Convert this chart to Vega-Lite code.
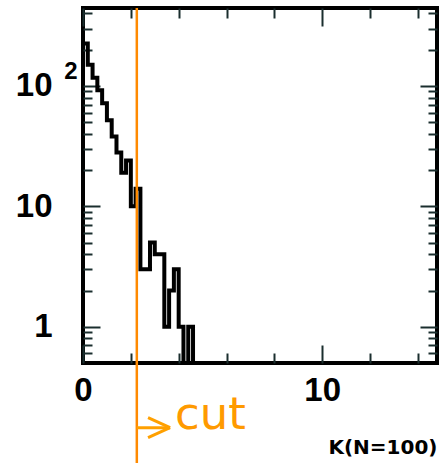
{
  "$schema": "https://vega.github.io/schema/vega-lite/v6.json",
  "width": 354,
  "height": 355,
  "autosize": {"type": "none"},
  "padding": {"left": 83, "top": 8, "right": 3, "bottom": 100},
  "background": "white",
  "config": {
    "view": {"stroke": "black", "strokeWidth": 4},
    "axis": {"grid": false, "domain": false, "tickColor": "#1a2e2e", "tickWidth": 2, "labelFont": "Liberation Sans", "labelFontWeight": "bold", "labelFontSize": 33, "labelColor": "black", "labelOverlap": false, "labelFlush": false}
  },
  "datasets": {
    "hist": [
      {"k": 0.0, "n": 225}, {"k": 0.2, "n": 150}, {"k": 0.4, "n": 117}, {"k": 0.6, "n": 92},
      {"k": 0.8, "n": 72}, {"k": 1.0, "n": 52}, {"k": 1.2, "n": 38}, {"k": 1.4, "n": 28},
      {"k": 1.6, "n": 19}, {"k": 1.8, "n": 24}, {"k": 2.0, "n": 10}, {"k": 2.2, "n": 14},
      {"k": 2.4, "n": 3}, {"k": 2.6, "n": 3}, {"k": 2.8, "n": 5}, {"k": 3.0, "n": 4},
      {"k": 3.2, "n": 4}, {"k": 3.4, "n": 1}, {"k": 3.6, "n": 2}, {"k": 3.8, "n": 3},
      {"k": 4.0, "n": 1}, {"k": 4.2, "n": 0}, {"k": 4.4, "n": 1}, {"k": 4.6, "n": 0}
    ],
    "cut": [{"k": 2.25, "top": 444, "bottom": 0.074, "ax0": 2.25, "ax1": 3.64, "ah": 2.72, "ay": 0.145, "ayu": 0.176, "ayl": 0.12, "tx": 3.85, "ty": 0.1425, "label": "cut"}]
  },
  "resolve": {"scale": {"y": "independent"}, "axis": {"x": "independent", "y": "independent"}},
  "layer": [
    {
      "data": {"name": "hist"},
      "mark": {"type": "line", "interpolate": "step-after", "color": "black", "strokeWidth": 4, "strokeJoin": "miter"},
      "encoding": {
        "x": {"field": "k", "type": "quantitative", "scale": {"domain": [0, 14.8], "nice": false, "zero": false},
          "axis": {"orient": "bottom", "values": [0, 10], "tickSize": -18, "labelBaseline": "middle", "labelPadding": 45,
            "title": "K(N=100)", "titleFont": "DejaVu Sans", "titleFontSize": 20, "titleFontWeight": "bold", "titleColor": "black",
            "titleAnchor": "end", "titleAlign": "right", "titleBaseline": "middle", "titleX": 354, "titleY": 84}},
        "y": {"field": "n", "type": "quantitative", "scale": {"type": "log", "domain": [0.5, 444], "nice": false, "clamp": true},
          "axis": {"orient": "left", "values": [1, 10, 100], "labelExpr": "datum.value == 1 ? '1' : '10'",
            "tickSize": -17, "labelBaseline": "middle", "labelPadding": 48, "title": null}}
      }
    },
    {
      "data": {"name": "hist"},
      "mark": {"type": "line", "strokeOpacity": 0},
      "encoding": {
        "x": {"field": "k", "type": "quantitative",
          "axis": {"orient": "bottom", "values": [2, 4, 6, 8, 12, 14], "labels": false, "tickSize": -10, "title": null}},
        "y": {"field": "n", "type": "quantitative", "scale": {"type": "log", "domain": [0.5, 444], "nice": false, "clamp": true},
          "axis": {"orient": "left", "values": [0.6, 0.7, 0.8, 0.9, 2, 3, 4, 5, 6, 7, 8, 9, 20, 30, 40, 50, 60, 70, 80, 90, 200, 300, 400],
            "labels": false, "tickSize": -9, "title": null}}
      }
    },
    {
      "data": {"name": "hist"},
      "mark": {"type": "line", "strokeOpacity": 0},
      "encoding": {
        "x": {"field": "k", "type": "quantitative",
          "axis": {"orient": "top", "values": [0, 10], "labels": false, "tickSize": -18, "title": null}},
        "y": {"field": "n", "type": "quantitative", "scale": {"type": "log", "domain": [0.5, 444], "nice": false, "clamp": true},
          "axis": {"orient": "right", "values": [1, 10, 100], "labels": false, "tickSize": -17, "title": null}}
      }
    },
    {
      "data": {"name": "hist"},
      "mark": {"type": "line", "strokeOpacity": 0},
      "encoding": {
        "x": {"field": "k", "type": "quantitative",
          "axis": {"orient": "top", "values": [2, 4, 6, 8, 12, 14], "labels": false, "tickSize": -10, "title": null}},
        "y": {"field": "n", "type": "quantitative", "scale": {"type": "log", "domain": [0.5, 444], "nice": false, "clamp": true},
          "axis": {"orient": "right", "values": [0.6, 0.7, 0.8, 0.9, 2, 3, 4, 5, 6, 7, 8, 9, 20, 30, 40, 50, 60, 70, 80, 90, 200, 300, 400],
            "labels": false, "tickSize": -9, "title": null}}
      }
    },
    {
      "data": {"name": "cut"},
      "mark": {"type": "rule", "color": "#ff8a00", "strokeWidth": 2.5},
      "encoding": {
        "x": {"field": "k", "type": "quantitative", "axis": null},
        "y": {"field": "top", "type": "quantitative", "scale": {"type": "log", "domain": [0.5, 444], "nice": false}, "axis": null},
        "y2": {"field": "bottom"}
      }
    },
    {
      "data": {"name": "cut"},
      "mark": {"type": "rule", "color": "#ffa000", "strokeWidth": 3},
      "encoding": {
        "x": {"field": "ax0", "type": "quantitative", "axis": null},
        "x2": {"field": "ax1"},
        "y": {"field": "ay", "type": "quantitative", "scale": {"type": "log", "domain": [0.5, 444], "nice": false}, "axis": null}
      }
    },
    {
      "data": {"name": "cut"},
      "mark": {"type": "rule", "color": "#ffa000", "strokeWidth": 3},
      "encoding": {
        "x": {"field": "ah", "type": "quantitative", "axis": null},
        "x2": {"field": "ax1"},
        "y": {"field": "ayu", "type": "quantitative", "scale": {"type": "log", "domain": [0.5, 444], "nice": false}, "axis": null},
        "y2": {"field": "ay"}
      }
    },
    {
      "data": {"name": "cut"},
      "mark": {"type": "rule", "color": "#ffa000", "strokeWidth": 3},
      "encoding": {
        "x": {"field": "ah", "type": "quantitative", "axis": null},
        "x2": {"field": "ax1"},
        "y": {"field": "ayl", "type": "quantitative", "scale": {"type": "log", "domain": [0.5, 444], "nice": false}, "axis": null},
        "y2": {"field": "ay"}
      }
    },
    {
      "data": {"name": "cut"},
      "mark": {"type": "text", "font": "DejaVu Sans", "fontSize": 45, "color": "#ff9a00", "align": "left", "baseline": "alphabetic"},
      "encoding": {
        "x": {"field": "tx", "type": "quantitative", "axis": null},
        "y": {"field": "ty", "type": "quantitative", "scale": {"type": "log", "domain": [0.5, 444], "nice": false}, "axis": null},
        "text": {"field": "label"}
      }
    },
    {
      "data": {"values": [{"x": -0.5, "y": 131, "t": "2"}]},
      "mark": {"type": "text", "font": "Liberation Sans", "fontWeight": "bold", "fontSize": 24, "color": "black", "align": "center", "baseline": "middle"},
      "encoding": {
        "x": {"field": "x", "type": "quantitative", "axis": null},
        "y": {"field": "y", "type": "quantitative", "scale": {"type": "log", "domain": [0.5, 444], "nice": false}, "axis": null},
        "text": {"field": "t"}
      }
    }
  ]
}
